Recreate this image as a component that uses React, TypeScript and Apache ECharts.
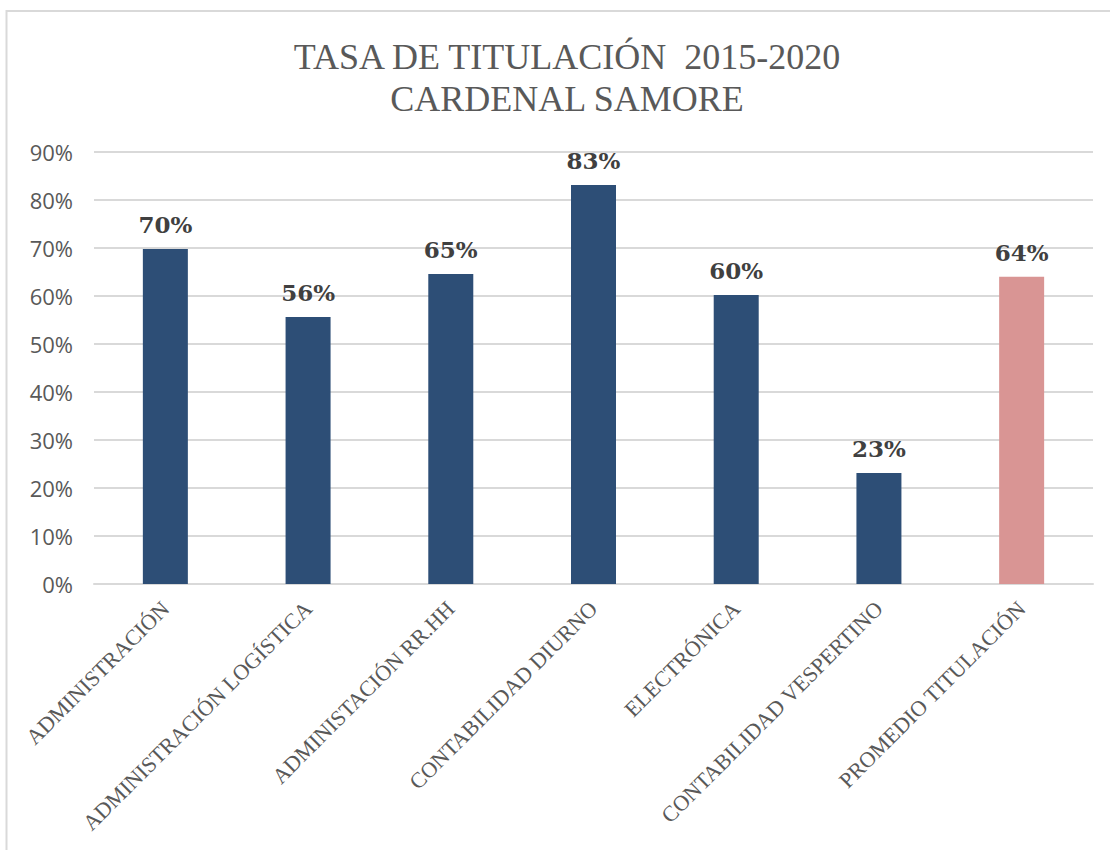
import React, { useEffect, useRef } from "react";
import * as echarts from "echarts";

const categories = [
  "ADMINISTRACIÓN",
  "ADMINISTRACIÓN LOGÍSTICA",
  "ADMINISTACIÓN RR.HH",
  "CONTABILIDAD DIURNO",
  "ELECTRÓNICA",
  "CONTABILIDAD VESPERTINO",
  "PROMEDIO TITULACIÓN",
];
const rates = [0.698, 0.556, 0.646, 0.831, 0.602, 0.231, 0.64];
const barColors = ["#2d4e76", "#2d4e76", "#2d4e76", "#2d4e76", "#2d4e76", "#2d4e76", "#d99594"];
const titleText = "TASA DE TITULACIÓN  2015-2020\nCARDENAL SAMORE";

export default function App() {
  const ref = useRef<HTMLDivElement>(null);
  useEffect(() => {
    if (!ref.current) return;
    const chart = echarts.init(ref.current, undefined, { renderer: "svg" });
    chart.setOption({
      animation: false,
      backgroundColor: "#ffffff",
      title: {
        text: titleText,
        left: 562,
        top: 31,
        textAlign: "center",
        textStyle: {
          fontFamily: "Liberation Serif",
          fontSize: 36,
          fontWeight: "normal",
          color: "#595959",
          lineHeight: 42,
        },
      },
      graphic: [
        {
          type: "rect",
          shape: { x: 6.5, y: 11, width: 1200, height: 900 },
          style: { fill: "none", stroke: "#d9d9d9", lineWidth: 2 },
          silent: true,
        },
      ],
      grid: { left: 94, right: 17, top: 152, bottom: 266, containLabel: false },
      xAxis: {
        type: "category",
        data: categories,
        axisLine: { show: true, lineStyle: { color: "#d9d9d9", width: 2 } },
        axisTick: { show: false },
        axisLabel: {
          interval: 0,
          rotate: 45,
          margin: 21,
          fontFamily: "Liberation Serif",
          fontSize: 22,
          color: "#595959",
        },
      },
      yAxis: {
        type: "value",
        min: 0,
        max: 0.9,
        interval: 0.1,
        axisLine: { show: false },
        axisTick: { show: false },
        splitLine: { lineStyle: { color: "#d9d9d9", width: 2 } },
        axisLabel: {
          margin: 21,
          fontFamily: "Open Sans",
          fontSize: 22,
          color: "#595959",
          formatter: (v: number) => Math.round(v * 100) + "%",
        },
      },
      series: [
        {
          type: "bar",
          barWidth: 45,
          data: rates.map((v, i) => ({ value: v, itemStyle: { color: barColors[i] } })),
          label: {
            show: true,
            position: "top",
            distance: 13,
            fontFamily: "DejaVu Serif",
            fontWeight: "bold",
            fontSize: 23,
            color: "#404040",
            formatter: (p: any) => Math.round(p.value * 100) + "%",
          },
        },
      ],
    });
    return () => chart.dispose();
  }, []);
  return (
    <div
      ref={ref}
      style={{ position: "fixed", left: 0, top: 0, width: 1110, height: 850 }}
    />
  );
}
